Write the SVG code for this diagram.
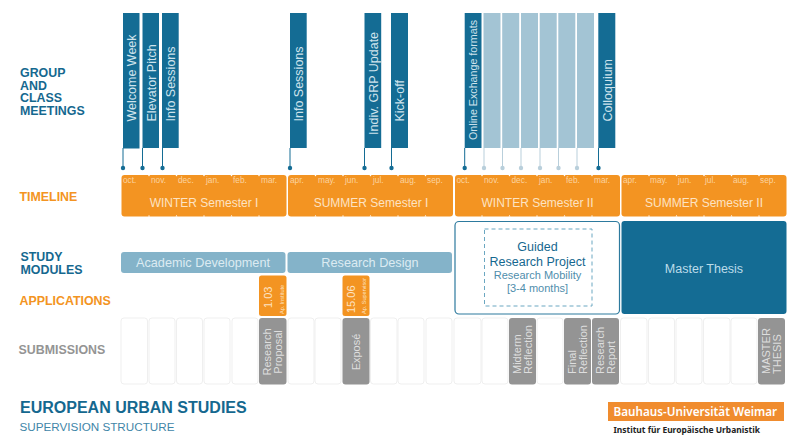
<svg xmlns="http://www.w3.org/2000/svg" width="800" height="446" viewBox="0 0 800 446">
<style>
text{font-family:"Liberation Sans",Arial,sans-serif}
.h{font-weight:700;font-size:12.400px}
.hb{fill:#15688f}.ho{fill:#f39422}.hg{fill:#949494}
.bar{fill:#146c94}.lbar{fill:#a3c4d4}
.bt{fill:#cfe3ec;font-size:12.500px}
.ln{stroke:#146c94;stroke-width:1;fill:none}.lln{stroke:#b9cfdb;stroke-width:1;fill:none}
.dot{fill:#146c94}.ldot{fill:#b9cfdb}
.sem{fill:#f39422}
.mon{fill:#fbd3a0;font-size:8.300px}
.st{fill:#fde3c3;font-size:12px;text-anchor:middle}
.notch{fill:#fff}
.mod{fill:#84b3c9}
.mt{fill:#dcebf2;font-size:12.700px;text-anchor:middle}
.cell{fill:#fff;stroke:#efefef;stroke-width:1}
.gr{fill:#949494}
.gt{fill:#dedede;font-size:11px;text-anchor:middle}
.ap{fill:#f39422}
</style>

<g id="row-labels">
<text class="h hb" x="20" y="77">GROUP</text><text class="h hb" x="20" y="89.500">AND</text><text class="h hb" x="20" y="102">CLASS</text><text class="h hb" x="20" y="114.500">MEETINGS</text>
<text class="h ho" x="19.500" y="200.500">TIMELINE</text>
<text class="h hb" x="20.500" y="261">STUDY</text><text class="h hb" x="20.500" y="273.500">MODULES</text>
<text class="h ho" x="19.500" y="305">APPLICATIONS</text>
<text class="h hg" x="18.500" y="353.500">SUBMISSIONS</text>
</g>

<g id="connectors">
<path class="ln" d="M123 148V168M142.500 148V168M162.500 148V168M290 148V168M364.500 148V168M391.500 148V168M464.700 148V168M598.500 148V168"/>
<path class="lln" d="M484 148V168M502.500 148V168M521 148V168M540 148V168M558.500 148V168M577 148V168"/>
<g class="dot"><circle cx="123" cy="168" r="2.200"/><circle cx="142.500" cy="168" r="2.200"/><circle cx="162.500" cy="168" r="2.200"/><circle cx="290" cy="168" r="2.200"/><circle cx="364.500" cy="168" r="2.200"/><circle cx="391.500" cy="168" r="2.200"/><circle cx="464.700" cy="168" r="2.200"/><circle cx="598.500" cy="168" r="2.200"/></g>
<g class="ldot"><circle cx="484" cy="168" r="2.200"/><circle cx="502.500" cy="168" r="2.200"/><circle cx="521" cy="168" r="2.200"/><circle cx="540" cy="168" r="2.200"/><circle cx="558.500" cy="168" r="2.200"/><circle cx="577" cy="168" r="2.200"/></g>
</g>

<g id="meetings">
<g id="m-welcome"><rect class="bar" x="123" y="13" width="16.500" height="135.500"/><text class="bt" transform="translate(136 121.500) rotate(-90)">Welcome Week</text></g>
<g id="m-elevator"><rect class="bar" x="142.500" y="13" width="16.500" height="135"/><text class="bt" transform="translate(155.500 121.500) rotate(-90)">Elevator Pitch</text></g>
<g id="m-info1"><rect class="bar" x="162" y="13" width="16.700" height="135"/><text class="bt" transform="translate(175 121.500) rotate(-90)">Info Sessions</text></g>
<g id="m-info2"><rect class="bar" x="290" y="13" width="16.700" height="135"/><text class="bt" transform="translate(303 121.500) rotate(-90)">Info Sessions</text></g>
<g id="m-indiv"><rect class="bar" x="364.500" y="13" width="16.700" height="135"/><text class="bt" transform="translate(378 135) rotate(-90)">Indiv. GRP Update</text></g>
<g id="m-kick"><rect class="bar" x="391" y="13" width="17" height="135"/><text class="bt" transform="translate(404 121.500) rotate(-90)">Kick-off</text></g>
<g id="m-online"><rect class="bar" x="464.700" y="13" width="16.800" height="135"/><text class="bt" style="font-size:10.700px" transform="translate(477 140) rotate(-90)">Online Exchange formats</text></g>
<g id="m-light">
<rect class="lbar" x="483.500" y="13" width="17" height="135"/><rect class="lbar" x="502.200" y="13" width="17" height="135"/><rect class="lbar" x="521" y="13" width="17" height="135"/><rect class="lbar" x="539.700" y="13" width="17" height="135"/><rect class="lbar" x="558.300" y="13" width="17" height="135"/><rect class="lbar" x="577" y="13" width="17" height="135"/>
</g>
<g id="m-colloq"><rect class="bar" x="598.300" y="13" width="17" height="135"/><text class="bt" transform="translate(611.500 121.500) rotate(-90)">Colloquium</text></g>
</g>

<g id="timeline">
<g id="sem-w1"><rect class="sem" x="121.500" y="175" width="165" height="41.500" rx="3"/><text class="st" x="204" y="206.500">WINTER Semester I</text></g>
<g id="sem-s1"><rect class="sem" x="288" y="175" width="165" height="41.500" rx="3"/><text class="st" x="371" y="206.500">SUMMER Semester I</text></g>
<g id="sem-w2"><rect class="sem" x="455" y="175" width="165" height="41.500" rx="3"/><text class="st" x="537.500" y="206.500">WINTER Semester II</text></g>
<g id="sem-s2"><rect class="sem" x="621.500" y="175" width="165" height="41.500" rx="3"/><text class="st" x="704" y="206.500">SUMMER Semester II</text></g>
<g class="notch">
<path d="M148 175h2l-1 1.500zM175.500 175h2l-1 1.500zM203 175h2l-1 1.500zM230.500 175h2l-1 1.500zM258 175h2l-1 1.500zM314.500 175h2l-1 1.500zM342 175h2l-1 1.500zM369.500 175h2l-1 1.500zM397 175h2l-1 1.500zM424.500 175h2l-1 1.500zM481 175h2l-1 1.500zM508.500 175h2l-1 1.500zM536 175h2l-1 1.500zM563.500 175h2l-1 1.500zM591 175h2l-1 1.500zM648 175h2l-1 1.500zM675.500 175h2l-1 1.500zM703 175h2l-1 1.500zM730.500 175h2l-1 1.500zM758 175h2l-1 1.500z"/>
<path d="M148 216.500h2l-1 -1.500zM175.500 216.500h2l-1 -1.500zM203 216.500h2l-1 -1.500zM230.500 216.500h2l-1 -1.500zM258 216.500h2l-1 -1.500zM314.500 216.500h2l-1 -1.500zM342 216.500h2l-1 -1.500zM369.500 216.500h2l-1 -1.500zM397 216.500h2l-1 -1.500zM424.500 216.500h2l-1 -1.500zM481 216.500h2l-1 -1.500zM508.500 216.500h2l-1 -1.500zM536 216.500h2l-1 -1.500zM563.500 216.500h2l-1 -1.500zM591 216.500h2l-1 -1.500zM648 216.500h2l-1 -1.500zM675.500 216.500h2l-1 -1.500zM703 216.500h2l-1 -1.500zM730.500 216.500h2l-1 -1.500zM758 216.500h2l-1 -1.500z"/>
</g>
<g id="months">
<text class="mon" x="123" y="183">oct.</text><text class="mon" x="151" y="183">nov.</text><text class="mon" x="178" y="183">dec.</text><text class="mon" x="206" y="183">jan.</text><text class="mon" x="233" y="183">feb.</text><text class="mon" x="261" y="183">mar.</text>
<text class="mon" x="290" y="183">apr.</text><text class="mon" x="318" y="183">may.</text><text class="mon" x="345" y="183">jun.</text><text class="mon" x="373" y="183">jul.</text><text class="mon" x="400" y="183">aug.</text><text class="mon" x="427" y="183">sep.</text>
<text class="mon" x="456.500" y="183">oct.</text><text class="mon" x="484" y="183">nov.</text><text class="mon" x="511.500" y="183">dec.</text><text class="mon" x="539" y="183">jan.</text><text class="mon" x="566" y="183">feb.</text><text class="mon" x="594" y="183">mar.</text>
<text class="mon" x="623" y="183">apr.</text><text class="mon" x="650" y="183">may.</text><text class="mon" x="678" y="183">jun.</text><text class="mon" x="705" y="183">jul.</text><text class="mon" x="733" y="183">aug.</text><text class="mon" x="760" y="183">sep.</text>
</g>
</g>

<g id="modules">
<g id="mod-academic"><rect class="mod" x="121" y="252" width="164.500" height="21" rx="3"/><text class="mt" x="203" y="266.500">Academic Development</text></g>
<g id="mod-design"><rect class="mod" x="287.500" y="252" width="164.500" height="21" rx="3"/><text class="mt" x="370" y="266.500">Research Design</text></g>
<g id="mod-guided">
<rect x="455" y="221.500" width="164.500" height="92.500" rx="4" fill="#fff" stroke="#2d7a9e" stroke-width="1.200"/>
<rect x="484.500" y="229" width="107.500" height="77" fill="none" stroke="#6ba7c1" stroke-width="1" stroke-dasharray="4 3"/>
<text x="537.500" y="251" text-anchor="middle" font-size="12.500" fill="#15688f">Guided</text>
<text x="537.500" y="266" text-anchor="middle" font-size="12.500" fill="#15688f">Research Project</text>
<text x="537.500" y="279" text-anchor="middle" font-size="11" fill="#4f8eac">Research Mobility</text>
<text x="537.500" y="292" text-anchor="middle" font-size="11" fill="#4f8eac">[3-4 months]</text>
</g>
<g id="mod-master"><rect class="bar" x="621.500" y="221" width="165" height="93" rx="3"/><text x="704" y="273" text-anchor="middle" font-size="12.500" fill="#bcdcea">Master Thesis</text></g>
</g>

<g id="applications">
<g id="app-1"><rect class="ap" x="259" y="275.500" width="27.500" height="40.500" rx="2.500"/><text transform="translate(272 308) rotate(-90)" font-size="11" fill="#fde3c3">1.03</text><text transform="translate(283.500 314) rotate(-90)" font-size="5.500" fill="#fde3c3">Ap. Institute</text></g>
<g id="app-2"><rect class="ap" x="342.500" y="275.500" width="27" height="40.500" rx="2.500"/><text transform="translate(355 313) rotate(-90)" font-size="11" fill="#fde3c3">15.06</text><text transform="translate(366 314) rotate(-90)" font-size="5.500" fill="#fde3c3">Ap. Supervisor</text></g>
</g>

<g id="submissions">
<g id="cells">
<rect class="cell" x="121" y="318" width="26.500" height="66" rx="3"/><rect class="cell" x="149" y="318" width="26" height="66" rx="3"/><rect class="cell" x="176.500" y="318" width="26" height="66" rx="3"/><rect class="cell" x="204" y="318" width="26" height="66" rx="3"/><rect class="cell" x="232" y="318" width="26" height="66" rx="3"/>
<rect class="cell" x="288" y="318" width="26" height="66" rx="3"/><rect class="cell" x="315" y="318" width="26" height="66" rx="3"/><rect class="cell" x="370.500" y="318" width="26.500" height="66" rx="3"/><rect class="cell" x="398" y="318" width="26" height="66" rx="3"/><rect class="cell" x="426" y="318" width="26" height="66" rx="3"/><rect class="cell" x="454" y="318" width="27" height="66" rx="3"/><rect class="cell" x="482" y="318" width="26" height="66" rx="3"/><rect class="cell" x="537" y="318" width="26" height="66" rx="3"/>
<rect class="cell" x="620.500" y="318" width="26.500" height="66" rx="3"/><rect class="cell" x="648.500" y="318" width="26" height="66" rx="3"/><rect class="cell" x="676" y="318" width="26" height="66" rx="3"/><rect class="cell" x="703.500" y="318" width="26.500" height="66" rx="3"/><rect class="cell" x="731" y="318" width="26" height="66" rx="3"/>
</g>
<g id="sub-proposal"><rect class="gr" x="259" y="318" width="27.500" height="66.500" rx="3"/><text class="gt" transform="translate(270.500 352) rotate(-90)">Research</text><text class="gt" transform="translate(281.500 352) rotate(-90)">Proposal</text></g>
<g id="sub-expose"><rect class="gr" x="342.500" y="318" width="27" height="66.500" rx="3"/><text class="gt" transform="translate(359.500 352) rotate(-90)">Exposé</text></g>
<g id="sub-midterm"><rect class="gr" x="509" y="318" width="27" height="66.500" rx="3"/><text class="gt" style="text-anchor:start" transform="translate(521 374) rotate(-90)">Midterm</text><text class="gt" style="text-anchor:start" transform="translate(532 374) rotate(-90)">Reflection</text></g>
<g id="sub-final"><rect class="gr" x="564" y="318" width="27" height="66.500" rx="3"/><text class="gt" style="text-anchor:start" transform="translate(576 374) rotate(-90)">Final</text><text class="gt" style="text-anchor:start" transform="translate(587 374) rotate(-90)">Reflection</text></g>
<g id="sub-report"><rect class="gr" x="592" y="318" width="27" height="66.500" rx="3"/><text class="gt" style="text-anchor:start" transform="translate(604 374) rotate(-90)">Research</text><text class="gt" style="text-anchor:start" transform="translate(615 374) rotate(-90)">Report</text></g>
<g id="sub-thesis"><rect class="gr" x="758" y="318" width="27" height="66.500" rx="3"/><text class="gt" style="text-anchor:start" transform="translate(770 374) rotate(-90)">MASTER</text><text class="gt" style="text-anchor:start" transform="translate(781 374) rotate(-90)">THESIS</text></g>
</g>

<g id="title">
<text x="20" y="413" font-size="16" font-weight="700" fill="#15688f">EUROPEAN URBAN STUDIES</text>
<text x="19.500" y="431" font-size="11.700" fill="#3f86a8">SUPERVISION STRUCTURE</text>
</g>

<g id="logo">
<rect x="608" y="402" width="176" height="19" fill="#f08c2e"/>
<text x="613.500" y="415.500" font-size="11.700" font-weight="600" fill="#fff" style="font-family:'Noto Sans',sans-serif">Bauhaus-Universität Weimar</text>
<text x="613.500" y="433" font-size="8.450" font-weight="700" fill="#222" style="font-family:'Noto Sans',sans-serif">Institut für Europäische Urbanistik</text>
</g>
</svg>
